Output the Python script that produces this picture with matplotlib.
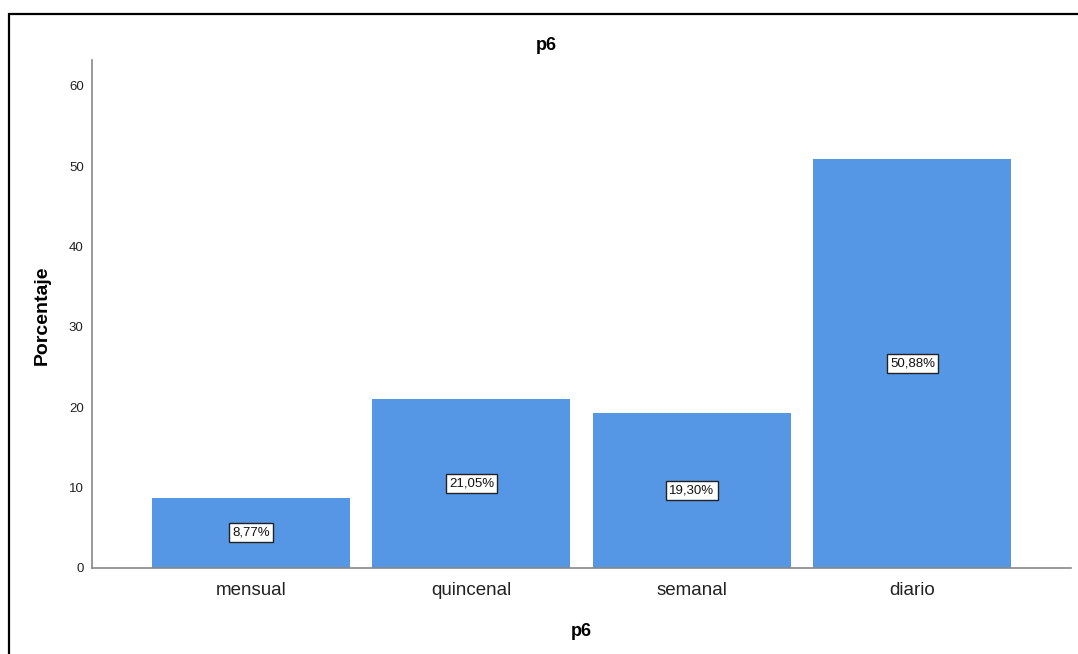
import matplotlib
matplotlib.use("Agg")
import matplotlib.pyplot as plt
from matplotlib.patches import Rectangle

plt.rcParams['font.family'] = ['Liberation Sans', 'DejaVu Sans']

categories = ["mensual", "quincenal", "semanal", "diario"]
percentages = [8.77, 21.05, 19.30, 50.88]
y_ticks = [0, 10, 20, 30, 40, 50, 60]

bar_color = "#5596E5"
W, H = 1078, 654

fig = plt.figure(figsize=(W / 100, H / 100), dpi=100)

# outer frame of the chart area
fig.patches.append(Rectangle((9 / W, -0.1), 1.2, (1 - 14 / H) + 0.1,
                             transform=fig.transFigure, fill=False,
                             edgecolor="black", linewidth=1.6, zorder=0))

ax = fig.add_axes([92 / W, 1 - 568 / H, (1071 - 92) / W, (568 - 60) / H])

x = list(range(len(categories)))
ax.bar(x, percentages, width=0.898, color=bar_color, zorder=2)

for xi, v in zip(x, percentages):
    label = f"{v:.2f}".replace(".", ",") + "%"
    ax.text(xi, v / 2, label, ha="center", va="center", fontsize=9.5,
            color="#111111",
            bbox=dict(boxstyle="square,pad=0.25", facecolor="white",
                      edgecolor="#222222", linewidth=1.0), zorder=3)

ax.set_xlim(-0.721, 3.719)
ax.set_ylim(0, 63.2)
ax.set_yticks(y_ticks)
ax.set_xticks(x)
ax.set_xticklabels(categories, fontsize=13.5, color="#222222")
ax.tick_params(axis="y", length=0, labelsize=9.5, pad=6, labelcolor="#222222")
ax.tick_params(axis="x", length=0, pad=10)

for side in ("top", "right"):
    ax.spines[side].set_visible(False)
for side in ("left", "bottom"):
    ax.spines[side].set_color("#888888")
    ax.spines[side].set_linewidth(1.2)

fig.text(546 / W, 1 - 45 / H, "p6", ha="center", va="center",
         fontsize=13, fontweight="bold")
ax.set_ylabel("Porcentaje", fontsize=14, fontweight="bold")
ax.yaxis.set_label_coords((42 - 92) / 979, (568 - 315) / 508)
ax.set_xlabel("p6", fontsize=13, fontweight="bold")
ax.xaxis.set_label_coords(0.5, -(631 - 568) / 508)
ax.xaxis.label.set_va("center")
ax.yaxis.label.set_va("center")

fig.savefig("out.png", dpi=100)
